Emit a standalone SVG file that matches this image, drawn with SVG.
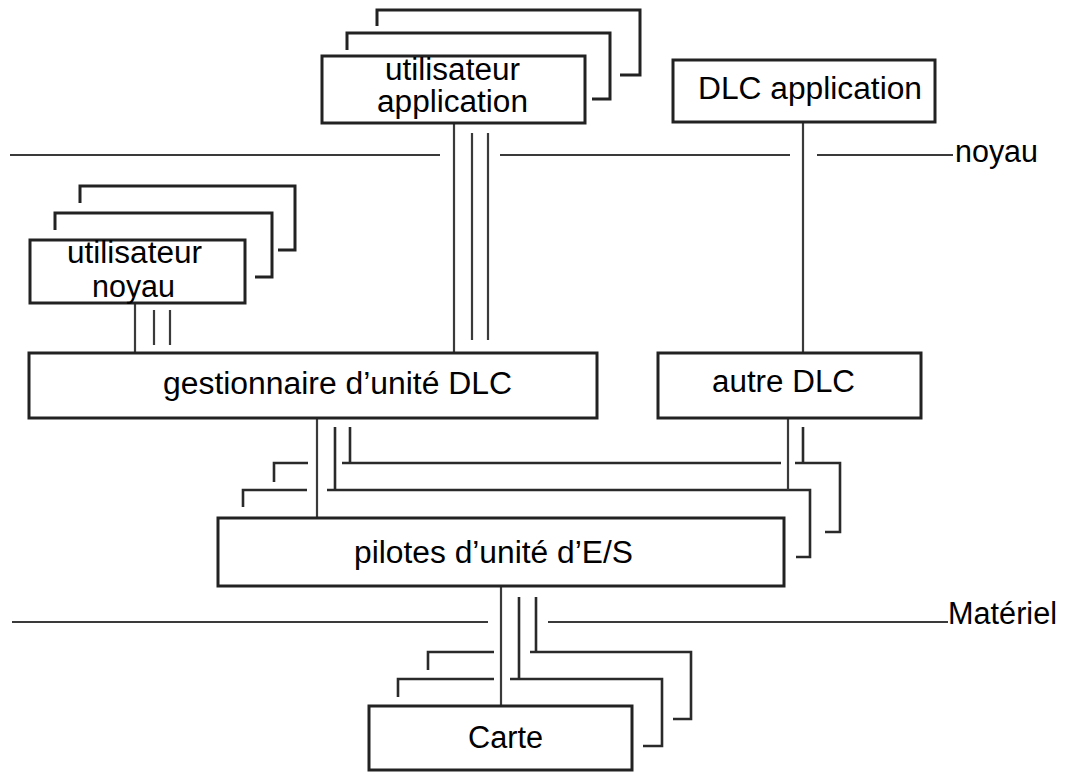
<svg xmlns="http://www.w3.org/2000/svg" width="1067" height="772" viewBox="0 0 1067 772">
<style>
.box{fill:#fff;stroke:#222;stroke-width:3}
.frm{fill:none;stroke:#222;stroke-width:3;stroke-linejoin:miter}
.ln{fill:none;stroke:#3a3a3a;stroke-width:2.2}
.lnk{fill:none;stroke:#2a2a2a;stroke-width:2.6}
text{font-family:"Liberation Sans",Arial,Helvetica,sans-serif;font-size:31px;fill:#000}
</style>
<rect width="1067" height="772" fill="#fff"/>
<g id="layers">
  <path class="ln" d="M10,155H440M500,155H790M817,155H953"/>
  <text x="955" y="162" textLength="83" lengthAdjust="spacingAndGlyphs">noyau</text>
  <path class="ln" d="M12,622H488M548,622H948"/>
  <text x="948" y="624" textLength="109" lengthAdjust="spacingAndGlyphs">Matériel</text>
</g>
<g id="connectors">
  <path class="ln" d="M454,123V353M472,133V340M488,133V340"/>
  <path class="ln" d="M803,122V353"/>
  <path class="ln" d="M135,303V353M154,310V345M170,310V345"/>
  <path class="ln" d="M317,418V518"/>
  <path class="lnk" d="M335,427V490M350,427V463"/>
  <path class="lnk" d="M342,463H781M795,463H840V532H825"/>
  <path class="lnk" d="M327,490H810V557H796"/>
  <path class="ln" d="M788,418V490"/>
  <path class="lnk" d="M803,427V463"/>
  <path class="lnk" d="M308,463H274V482M307,490H243V507"/>
  <path class="ln" d="M501,586V706"/>
  <path class="lnk" d="M519,597V679M536,597V652"/>
  <path class="lnk" d="M530,652H691V719H673M510,679H662V746H643"/>
  <path class="lnk" d="M494,652H428V670M494,679H398V697"/>
</g>
<g id="utilisateur-application">
  <path class="frm" d="M377,26V10H640V75H620"/>
  <path class="frm" d="M347,50V33H610V99H592"/>
  <rect class="box" x="322" y="56" width="263" height="67"/>
  <text x="385" y="80" textLength="135" lengthAdjust="spacingAndGlyphs">utilisateur</text>
  <text x="377" y="112" textLength="151" lengthAdjust="spacingAndGlyphs">application</text>
</g>
<g id="dlc-application">
  <rect class="box" x="673" y="60" width="262" height="62"/>
  <text x="698" y="99" textLength="224" lengthAdjust="spacingAndGlyphs">DLC application</text>
</g>
<g id="utilisateur-noyau">
  <path class="frm" d="M80,203V186H295V250H278"/>
  <path class="frm" d="M55,230V213H272V277H255"/>
  <rect class="box" x="30" y="240" width="215" height="63"/>
  <text x="67" y="263" textLength="135" lengthAdjust="spacingAndGlyphs">utilisateur</text>
  <text x="92" y="297" textLength="83" lengthAdjust="spacingAndGlyphs">noyau</text>
</g>
<g id="gestionnaire">
  <rect class="box" x="29" y="353" width="568" height="65"/>
  <text x="163" y="394" textLength="349" lengthAdjust="spacingAndGlyphs">gestionnaire d’unité DLC</text>
</g>
<g id="autre-dlc">
  <rect class="box" x="658" y="353" width="263" height="65"/>
  <text x="712" y="392" textLength="143" lengthAdjust="spacingAndGlyphs">autre DLC</text>
</g>
<g id="pilotes">
  <rect class="box" x="218" y="518" width="566" height="68"/>
  <text x="354" y="563" textLength="279" lengthAdjust="spacingAndGlyphs">pilotes d’unité d’E/S</text>
</g>
<g id="carte">
  <rect class="box" x="369" y="706" width="263" height="64"/>
  <text x="468" y="748" textLength="75" lengthAdjust="spacingAndGlyphs">Carte</text>
</g>
</svg>
